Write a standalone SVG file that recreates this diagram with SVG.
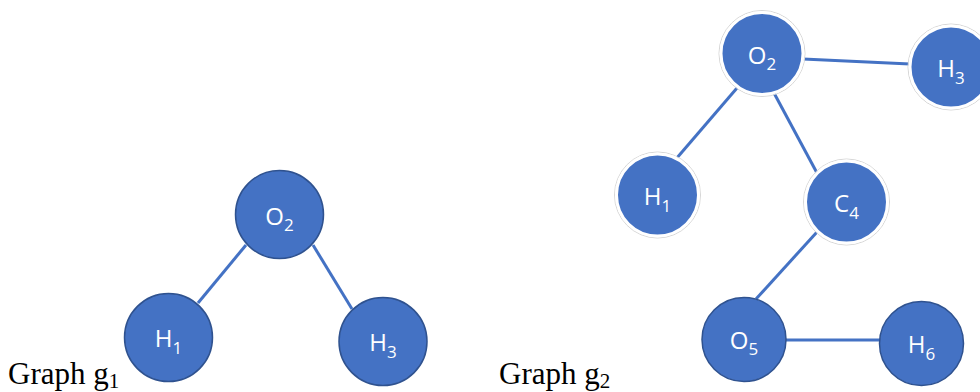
<svg xmlns="http://www.w3.org/2000/svg" width="980" height="392" viewBox="0 0 980 392">
  <style>
    .edge { stroke: #4472C4; stroke-width: 3; fill: none; }
    .node { fill: #4472C4; stroke: #2F528F; stroke-width: 1.5; }
    .node-light { fill: #4472C4; stroke: #FFFFFF; stroke-width: 3; }
    .halo { fill: none; stroke: #D6D6D6; stroke-width: 1; }
    .label { font-family: "Open Sans", "Liberation Sans", sans-serif; font-size: 24px; fill: #FFFFFF; text-anchor: middle; }
    .sub { font-size: 17px; }
    .caption { font-family: "Liberation Serif", "Times New Roman", serif; font-size: 31px; fill: #000000; }
    .caption-sub { font-size: 21px; }
  </style>

  <!-- graph g1: edges -->
  <g id="g1-edges">
    <line class="edge" x1="246" y1="245" x2="198" y2="303"/>
    <line class="edge" x1="313" y1="245" x2="352" y2="309"/>
  </g>

  <!-- graph g1: nodes -->
  <g id="g1-O2">
    <circle class="node" cx="279.5" cy="214.5" r="44"/>
    <text class="label" x="279.5" y="225">O<tspan class="sub" dy="6">2</tspan></text>
  </g>
  <g id="g1-H1">
    <circle class="node" cx="168.5" cy="337.5" r="44"/>
    <text class="label" x="168.5" y="347">H<tspan class="sub" dy="7">1</tspan></text>
  </g>
  <g id="g1-H3">
    <circle class="node" cx="383" cy="341.5" r="44"/>
    <text class="label" x="383" y="351">H<tspan class="sub" dy="7">3</tspan></text>
  </g>

  <!-- graph g2: edges -->
  <g id="g2-edges">
    <line class="edge" x1="803" y1="59" x2="910" y2="64"/>
    <line class="edge" x1="737" y1="88" x2="676" y2="159"/>
    <line class="edge" x1="774" y1="93" x2="817" y2="173"/>
    <line class="edge" x1="817" y1="232" x2="756" y2="299"/>
    <line class="edge" x1="786" y1="340" x2="880" y2="340"/>
  </g>

  <!-- graph g2: nodes -->
  <g id="g2-O2">
    <circle class="halo" cx="762" cy="53.5" r="43"/>
    <circle class="node-light" cx="762" cy="53.5" r="41"/>
    <text class="label" x="762" y="64">O<tspan class="sub" dy="6">2</tspan></text>
  </g>
  <g id="g2-H3">
    <circle class="halo" cx="951" cy="67" r="43"/>
    <circle class="node-light" cx="951" cy="67" r="41"/>
    <text class="label" x="951" y="77">H<tspan class="sub" dy="7">3</tspan></text>
  </g>
  <g id="g2-H1">
    <circle class="halo" cx="657.5" cy="195" r="43"/>
    <circle class="node-light" cx="657.5" cy="195" r="41"/>
    <text class="label" x="657.5" y="205">H<tspan class="sub" dy="7">1</tspan></text>
  </g>
  <g id="g2-C4">
    <circle class="halo" cx="846.5" cy="202" r="43"/>
    <circle class="node-light" cx="846.5" cy="202" r="41"/>
    <text class="label" x="846.5" y="212">C<tspan class="sub" dy="7">4</tspan></text>
  </g>
  <g id="g2-O5">
    <circle class="node" cx="744" cy="339.5" r="42"/>
    <text class="label" x="744" y="349">O<tspan class="sub" dy="6">5</tspan></text>
  </g>
  <g id="g2-H6">
    <circle class="node" cx="921.5" cy="343.5" r="42"/>
    <text class="label" x="921.5" y="353">H<tspan class="sub" dy="7">6</tspan></text>
  </g>

  <!-- captions -->
  <text class="caption" x="8" y="384">Graph g<tspan class="caption-sub" dy="4">1</tspan></text>
  <text class="caption" x="499" y="384">Graph g<tspan class="caption-sub" dy="4">2</tspan></text>
</svg>
